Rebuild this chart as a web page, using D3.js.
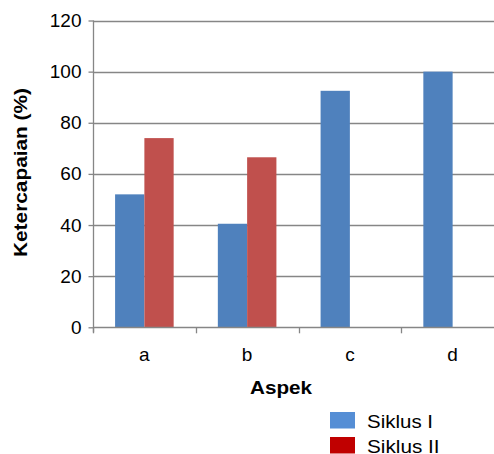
<!DOCTYPE html>
<html>
<head>
<meta charset="utf-8">
<script src="https://cdn.jsdelivr.net/npm/d3@7/dist/d3.min.js"></script>
<style>
  html, body { margin: 0; padding: 0; background: #fff; }
  svg { display: block; font-family: "Liberation Sans", Arial, sans-serif; }
</style>
</head>
<body>
<svg id="chart" width="494" height="454"></svg>
<script>
const categories = ["a", "b", "c", "d"];
const seriesNames = ["Siklus I", "Siklus II"];
const siklus1 = [52, 40.5, 92.5, 100];
const siklus2 = [74, 66.5, null, null];
const yTicks = [0, 20, 40, 60, 80, 100, 120];
const barColors = ["#4F81BD", "#C0504D"];
const legendColors = ["#558ED5", "#C00000"];

(function () {
const svg = d3.select("#chart");
const mLeft = 93, mRight = 504, mTop = 20.5, mBottom = 327.3;

const x = d3.scaleBand().domain(categories).range([mLeft, mRight]).padding(0);
const bw = x.bandwidth();
const inner = d3.scaleBand().domain(seriesNames).range([bw * 0.215, bw * 0.785]).padding(0);
const y = d3.scaleLinear().domain([0, 120]).range([mBottom, mTop]);

const gridColor = "#868686";

// gridlines
svg.append("g").selectAll("line").data(yTicks.filter(d => d > 0)).join("line")
  .attr("x1", mLeft).attr("x2", mRight)
  .attr("y1", d => Math.round(y(d)) + 0.5).attr("y2", d => Math.round(y(d)) + 0.5)
  .attr("stroke", gridColor).attr("stroke-width", 1.3);

// bars
const data = [];
categories.forEach((c, i) => {
  [siklus1, siklus2].forEach((s, j) => {
    if (s[i] != null) data.push({cat: c, series: seriesNames[j], value: s[i], color: barColors[j]});
  });
});
svg.append("g").selectAll("rect").data(data).join("rect")
  .attr("x", d => x(d.cat) + inner(d.series))
  .attr("width", inner.bandwidth())
  .attr("y", d => y(d.value))
  .attr("height", d => y(0) - y(d.value))
  .attr("fill", d => d.color);

// y axis
const yAxis = d3.axisLeft(y).tickValues(yTicks).tickSize(5).tickPadding(7);
const gy = svg.append("g").attr("transform", `translate(${mLeft + 0.5},0)`).call(yAxis);
gy.select(".domain").attr("stroke", gridColor).attr("stroke-width", 1.3).attr("d", `M0,${mTop}V${mBottom + 5}`);
gy.selectAll(".tick line").attr("stroke", gridColor).attr("stroke-width", 1.3);
gy.selectAll(".tick text").attr("font-size", 19).attr("fill", "#000")
  .attr("font-family", "Liberation Sans, Arial, sans-serif");

// x axis
const boundaries = categories.map(c => x(c)).concat([mRight]);
const gx = svg.append("g");
gx.append("line").attr("x1", mLeft).attr("x2", mRight)
  .attr("y1", Math.round(y(0)) + 0.5).attr("y2", Math.round(y(0)) + 0.5)
  .attr("stroke", gridColor).attr("stroke-width", 1.3);
gx.selectAll("line.tk").data(boundaries).join("line").attr("class", "tk")
  .attr("x1", d => Math.round(d) + 0.5).attr("x2", d => Math.round(d) + 0.5)
  .attr("y1", y(0)).attr("y2", y(0) + 6)
  .attr("stroke", gridColor).attr("stroke-width", 1.3);
gx.selectAll("text").data(categories).join("text")
  .attr("x", d => x(d) + bw / 2).attr("y", 361)
  .attr("text-anchor", "middle").attr("font-size", 19).attr("fill", "#000")
  .text(d => d);

// axis titles
svg.append("text").attr("x", 250).attr("y", 394)
  .attr("textLength", 62).attr("lengthAdjust", "spacingAndGlyphs")
  .attr("font-size", 19).attr("font-weight", "bold").attr("fill", "#000").text("Aspek");
svg.append("text").attr("transform", "translate(27,257) rotate(-90)")
  .attr("textLength", 169).attr("lengthAdjust", "spacingAndGlyphs")
  .attr("font-size", 19).attr("font-weight", "bold")
  .attr("fill", "#000").text("Ketercapaian (%)");

// legend
const legendLens = [66, 72.6];
const lg = svg.append("g").selectAll("g").data(seriesNames).join("g")
  .attr("transform", (d, i) => `translate(330,${412 + i * 25})`);
lg.append("rect").attr("width", 25).attr("height", 16.5).attr("fill", (d, i) => legendColors[i]);
lg.append("text").attr("x", 37).attr("y", 15.5)
  .attr("textLength", (d, i) => legendLens[i]).attr("lengthAdjust", "spacingAndGlyphs")
  .attr("font-size", 19).attr("fill", "#000").text(d => d);
})();
</script>
</body>
</html>
